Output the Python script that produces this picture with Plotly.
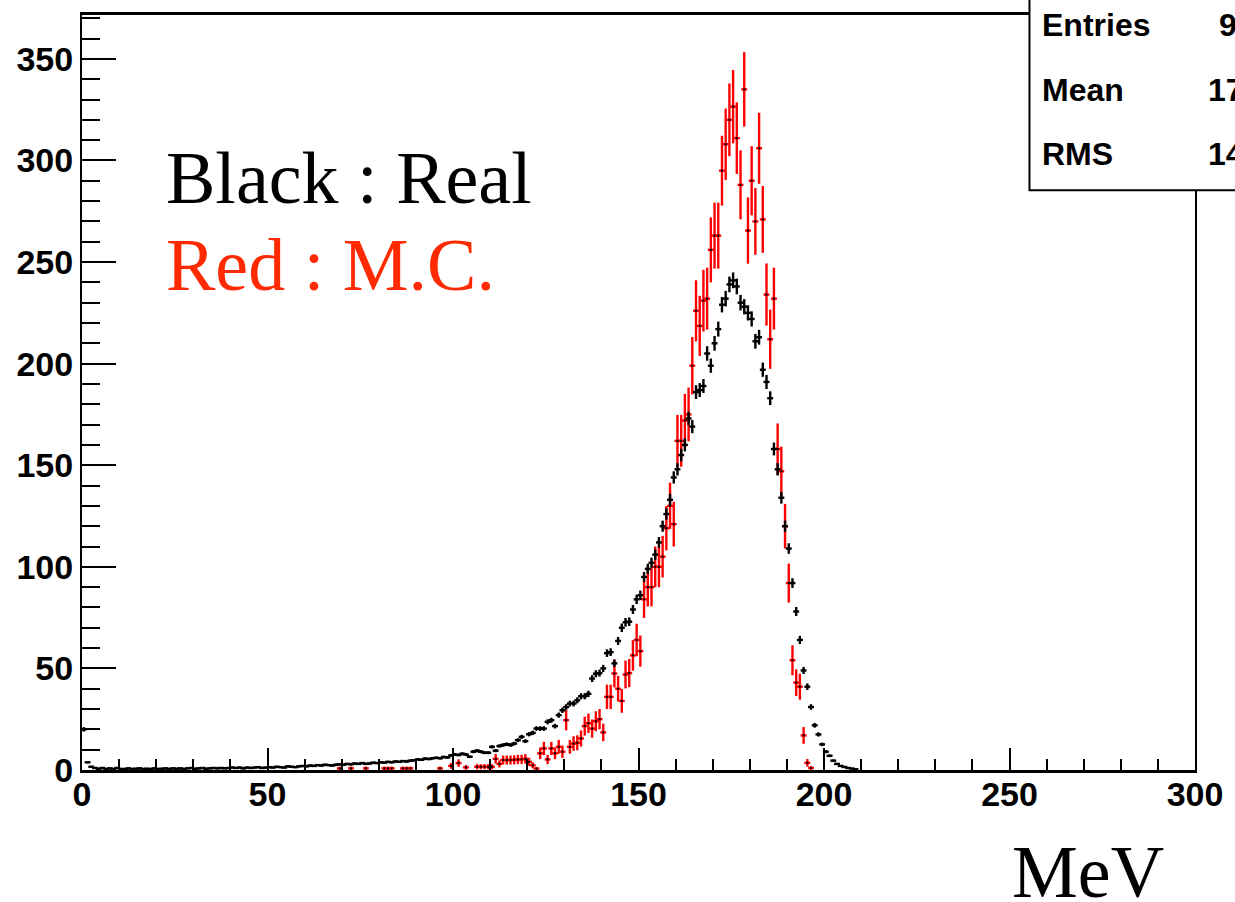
import numpy as np
import plotly.graph_objects as go

# ---- data (1 MeV bins) ----
bin_width = 1.0
black_first_bin = 0
black_counts = [
    20, 3.8, 1.6, 1.0, 0.6, 1.0, 0.5, 0.8, 0.5, 1.0, 0.5,
    0.5, 0.8, 0.5, 0.6, 0.8, 0.5, 0.6, 0.5, 0.8, 0.5,
    0.6, 0.8, 0.5, 0.8, 0.6, 0.8, 0.5, 0.8, 1.0, 0.6,
    0.8, 1.0, 0.6, 0.8, 1.0, 0.8, 1.0, 0.8, 1.0, 1.2,
    1.0, 1.2, 0.8, 1.2, 1.0, 1.2, 1.4, 1.0, 1.2, 1.4,
    1.2, 1.6, 1.4, 1.2, 1.8, 1.6, 1.4, 1.8, 2.0, 1.8,
    2.2, 2.0, 2.4, 2.2, 2.6, 2.4, 2.2, 2.6, 2.8, 2.6,
    3.0, 2.8, 3.2, 3.0, 3.4, 3.0, 3.2, 3.6, 3.4, 3.8,
    3.6, 4.0, 3.8, 4.2, 4.0, 4.4, 4.2, 4.6, 4.8, 5.2,
    5.0, 5.6, 5.4, 5.8, 6.0, 5.8, 6.4, 6.2, 7.2, 7.6,
    7.4, 8.0, 7.6, 6.5, 9.0, 9.5, 9.0, 8.5, 8.5, 11.4,
    9.5, 11.8, 12.3, 12.7, 12.3, 13.0, 14.7, 16.3, 14.2, 17.6,
    18.3, 20.4, 20.4, 20.4, 23.7, 24.5, 21.6, 27.0, 29.4, 31.0,
    32.7, 32.7, 34.3, 36.3, 36.3, 37.5, 45.0, 47.4, 47.7, 50.0,
    57.5, 58.0, 52.5, 63.5, 70.0, 72.7, 73.0, 79.0, 84.0, 86.0,
    95.0, 99.0, 102.0, 106.0, 112.0, 120.0, 126.0, 133.0, 144.0, 148.0,
    155.0, 160.0, 173.0, 169.0, 186.0, 187.0, 189.0, 205.0, 199.0, 210.0,
    217.0, 229.0, 232.0, 239.0, 241.0, 238.0, 230.0, 228.0, 225.0, 222.0,
    211.0, 213.0, 197.0, 191.0, 183.0, 158.0, 148.0, 134.0, 120.0, 109.0,
    92.0, 78.0, 64.0, 49.0, 41.0, 31.0, 22.0, 17.5, 12.6, 9.0,
    7.0, 4.6, 3.0, 2.0, 1.5, 1.0, 0.7, 0.4,
]
black_scale = 16  # real-data histogram was scaled down by this factor

red_first_bin = 69
red_counts = [
    0.8, 0, 0, 0.8, 0, 0, 0, 0.8, 0, 0, 0, 0,
    0.8, 0.8, 0.8, 0, 0, 0.8, 0.8, 0.8, 0, 0,
    0, 0, 0, 0, 0, 0.8, 0, 0, 2.0, 0,
    3.4, 0, 1.3, 0, 0, 1.6, 1.6, 1.6, 1.6, 1.6,
    5.5, 3.0, 4.9, 4.9, 4.9, 5.0, 5.2, 5.2, 5.5, 4.0,
    2.3, 0.7, 8.2, 10.6, 5.2, 10.6, 8.2, 11.4, 9.0, 24.5,
    11.4, 13.0, 13.4, 15.5, 21.6, 23.0, 20.4, 24.0, 25.0, 18.5,
    36.0, 36.0, 47.5, 40.0, 34.0, 47.0, 47.7, 56.4, 64.0, 58.5,
    84.0, 90.0, 90.0, 100.0, 100.0, 105.0, 119.0, 130.0, 121.0, 162.0,
    162.0, 172.0, 175.0, 199.0, 226.0, 218.6, 231.0, 232.0, 256.0, 263.0,
    263.0, 295.0, 308.0, 320.0, 326.5, 311.0, 288.0, 335.0, 265.5, 290.0,
    270.0, 306.0, 271.0, 234.0, 212.0, 232.0, 158.0, 147.0, 120.0, 92.0,
    54.0, 43.0, 41.0, 17.0, 3.5, 1.0,
]

x_ticks = [0, 50, 100, 150, 200, 250, 300]
y_ticks = [0, 50, 100, 150, 200, 250, 300, 350]

# ---- derived histogram points ----
bc = np.array(black_counts, dtype=float)
bx = black_first_bin + np.arange(len(bc)) * bin_width + bin_width / 2
be = np.sqrt(bc * black_scale) / black_scale
bm = bc > 0

rc = np.array(red_counts, dtype=float)
rx = red_first_bin + np.arange(len(rc)) * bin_width + bin_width / 2
re = np.sqrt(rc)
rm = rc > 0

RED = "#ff0000"
XBAR = 0.8  # drawn half-width of the horizontal bin bar (style)

fig = go.Figure()
fig.add_trace(go.Scatter(
    x=rx[rm], y=rc[rm], mode="markers",
    marker=dict(symbol="square", size=2, color="black"),
    error_y=dict(type="data", array=re[rm], color=RED, thickness=2.4, width=0),
    error_x=dict(type="data", array=[XBAR] * int(rm.sum()), color=RED, thickness=2.4, width=0),
    showlegend=False, cliponaxis=True, hoverinfo="skip",
))
fig.add_trace(go.Scatter(
    x=bx[bm], y=bc[bm], mode="markers",
    marker=dict(symbol="square", size=2, color="black"),
    error_y=dict(type="data", array=be[bm], color="black", thickness=2.4, width=0),
    error_x=dict(type="data", array=[XBAR] * int(bm.sum()), color="black", thickness=2.4, width=0),
    showlegend=False, cliponaxis=True, hoverinfo="skip",
))

tickfont = dict(family="Liberation Sans, Arial, sans-serif", size=34, color="black", weight="bold")

ML, MR = 82, 30
fig.update_layout(
    width=1235, height=902, autosize=False,
    margin=dict(l=ML, r=MR, t=12, b=132, pad=0),
    paper_bgcolor="white", plot_bgcolor="white",
    xaxis=dict(
        range=[0, 300], tickvals=x_ticks, ticktext=[str(v) for v in x_ticks],
        ticks="inside", ticklen=22, tickwidth=2, tickcolor="black",
        minor=dict(ticks="inside", dtick=10, tick0=0, ticklen=11, tickwidth=2, tickcolor="black", showgrid=False),
        showline=True, linecolor="black", linewidth=3, mirror=True,
        showgrid=False, zeroline=False, tickfont=tickfont, ticklabelstandoff=-8,
    ),
    yaxis=dict(
        range=[0, 371.6], tickvals=y_ticks, ticktext=[str(v) for v in y_ticks],
        ticks="inside", ticklen=34, tickwidth=2, tickcolor="black",
        minor=dict(ticks="inside", dtick=10, tick0=0, ticklen=18, tickwidth=2, tickcolor="black", showgrid=False),
        showline=True, linecolor="black", linewidth=2, mirror=True,
        showgrid=False, zeroline=False, tickfont=tickfont,
    ),
)

# stats box (partially cut off at the right edge, as in the original)
W0, H0 = float(1235 - ML - MR), 758.0
def px(x):
    return (x - ML) / W0
def py(y):
    return (770 - y) / H0

fig.add_shape(type="rect", xref="paper", yref="paper",
              x0=px(1038), x1=px(1300), y0=py(188), y1=py(-20),
              line=dict(color="black", width=2), fillcolor="white", layer="above")

statfont = dict(family="Liberation Sans, Arial, sans-serif", size=32, color="black", weight="bold")
for label, val, yy, xv in [("Entries", "9", 22, 1227), ("Mean", "17", 87, 1216), ("RMS", "14", 152, 1216)]:
    fig.add_annotation(xref="paper", yref="paper", x=px(1049), y=py(yy), text=label,
                       showarrow=False, xanchor="left", yanchor="middle", font=statfont)
    fig.add_annotation(xref="paper", yref="paper", x=px(xv), y=py(yy), text=val,
                       showarrow=False, xanchor="left", yanchor="middle", font=statfont)

serif = "Liberation Serif, Times New Roman, serif"
fig.add_annotation(xref="paper", yref="paper", x=px(165), y=py(176), text="Black : Real",
                   showarrow=False, xanchor="left", yanchor="middle",
                   font=dict(family=serif, size=74, color="black"))
fig.add_annotation(xref="paper", yref="paper", x=px(165), y=py(263), text="Red : M.C.",
                   showarrow=False, xanchor="left", yanchor="middle",
                   font=dict(family=serif, size=74, color="#ff2a00"))
fig.add_annotation(xref="paper", yref="paper", x=px(1018), y=py(872), text="MeV",
                   showarrow=False, xanchor="left", yanchor="middle",
                   font=dict(family=serif, size=74, color="black"))

fig.write_html("out.html", config={"displayModeBar": False, "staticPlot": True},
               post_script="document.body.style.margin='0px';document.body.style.overflow='hidden';")
